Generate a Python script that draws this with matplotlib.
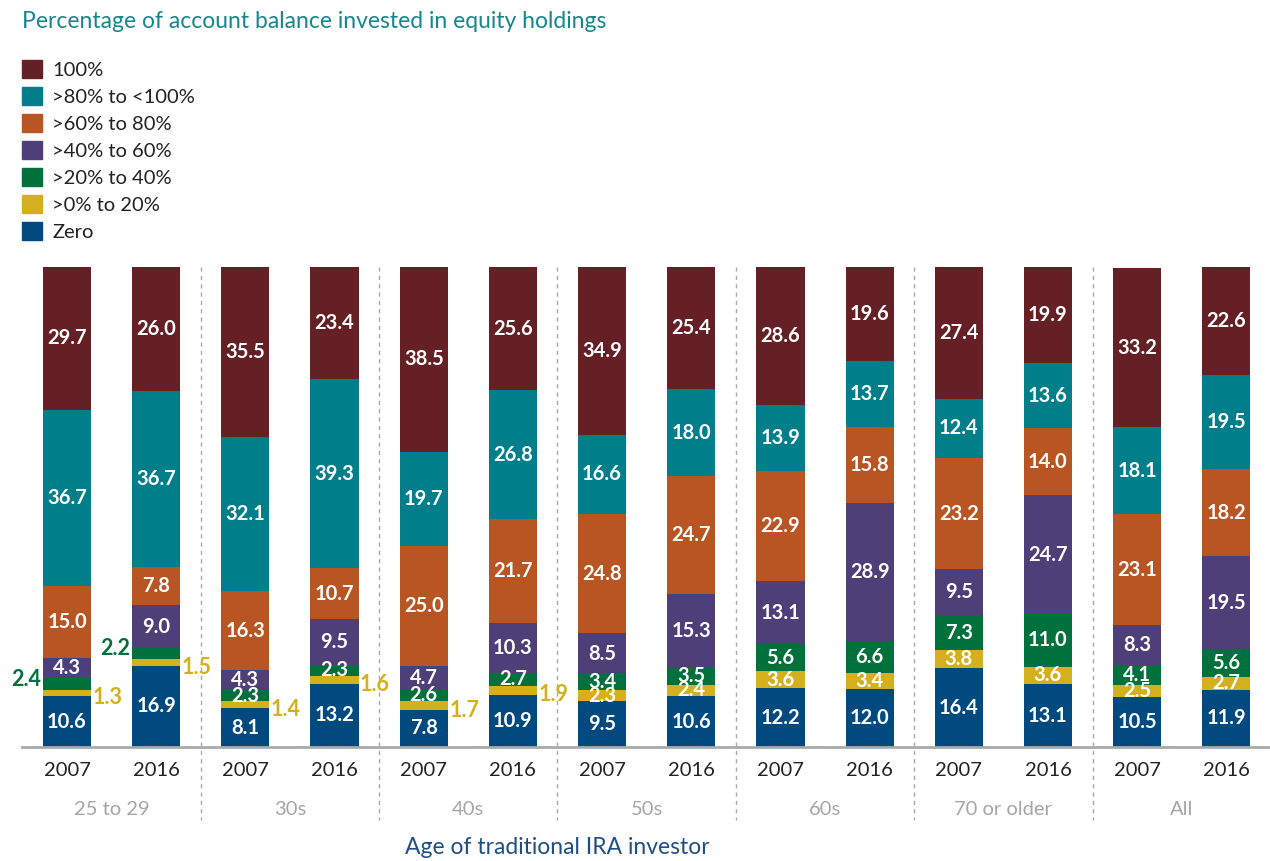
import numpy as np
import matplotlib.pyplot as plt
from matplotlib.patches import Patch
from matplotlib.transforms import blended_transform_factory

plt.rcParams["font.family"] = ["Lato", "DejaVu Sans"]

groups = ["25 to 29", "30s", "40s", "50s", "60s", "70 or older", "All"]
years = ["2007", "2016"]

# bottom to top of each stacked bar
categories = ["Zero", ">0% to 20%", ">20% to 40%", ">40% to 60%",
              ">60% to 80%", ">80% to <100%", "100%"]
colors = ["#004a80", "#d4b11c", "#00703c", "#4e3f78",
          "#b95423", "#007e8a", "#652025"]

# one value per bar: 25-29 '07, '16, 30s '07, '16, ... All '07, '16
zero =      [10.6, 16.9, 8.1, 13.2, 7.8, 10.9, 9.5, 10.6, 12.2, 12.0, 16.4, 13.1, 10.5, 11.9]
upto20 =    [1.3, 1.5, 1.4, 1.6, 1.7, 1.9, 2.3, 2.4, 3.6, 3.4, 3.8, 3.6, 2.5, 2.7]
upto40 =    [2.4, 2.2, 2.3, 2.3, 2.6, 2.7, 3.4, 3.5, 5.6, 6.6, 7.3, 11.0, 4.1, 5.6]
upto60 =    [4.3, 9.0, 4.3, 9.5, 4.7, 10.3, 8.5, 15.3, 13.1, 28.9, 9.5, 24.7, 8.3, 19.5]
upto80 =    [15.0, 7.8, 16.3, 10.7, 25.0, 21.7, 24.8, 24.7, 22.9, 15.8, 23.2, 14.0, 23.1, 18.2]
below100 =  [36.7, 36.7, 32.1, 39.3, 19.7, 26.8, 16.6, 18.0, 13.9, 13.7, 12.4, 13.6, 18.1, 19.5]
full =      [29.7, 26.0, 35.5, 23.4, 38.5, 25.6, 34.9, 25.4, 28.6, 19.6, 27.4, 19.9, 33.2, 22.6]

series = [zero, upto20, upto40, upto60, upto80, below100, full]

# small segments labelled beside the bar: (series index, bar index)
left_labels = {(2, 0), (2, 1)}
right_labels = {(1, 0), (1, 1), (1, 2), (1, 3), (1, 4), (1, 5)}

fig = plt.figure(figsize=(12.7, 8.61), dpi=100)
ax = fig.add_axes([22 / 1270, 114 / 861, 1248 / 1270, 480 / 861])

x = np.arange(len(zero))
width = 0.54
bottom = np.zeros(len(x))
for k, (vals, col) in enumerate(zip(series, colors)):
    vals = np.array(vals)
    ax.bar(x, vals, width, bottom=bottom, color=col, linewidth=0)
    for i, v in enumerate(vals):
        yc = bottom[i] + v / 2
        if (k, i) in left_labels:
            ax.annotate(f"{v:.1f}", (x[i] - width / 2, yc + 1.0), xytext=(-1.5, 0),
                        textcoords="offset points", ha="right", va="center",
                        color=col, fontsize=15.5, fontweight="bold")
        elif (k, i) in right_labels:
            ax.annotate(f"{v:.1f}", (x[i] + width / 2, yc - 1.0), xytext=(1, 0),
                        textcoords="offset points", ha="left", va="center",
                        color=col, fontsize=15.5, fontweight="bold")
        else:
            ax.text(x[i], yc, f"{v:.1f}", ha="center", va="center",
                    color="white", fontsize=14.5, fontweight="bold")
    bottom += vals

ax.set_xlim(-0.505, 13.49)
ax.set_ylim(0, 100)
for s in ax.spines.values():
    s.set_visible(False)
ax.set_yticks([])
ax.set_xticks(x)
ax.set_xticklabels(years * len(groups), fontsize=14.5, color="#222222")
ax.tick_params(axis="x", length=0, pad=11)
ax.axhline(0, color="#aaaaaa", lw=2, clip_on=False)

trans = blended_transform_factory(ax.transData, ax.transAxes)
for d in np.arange(1.5, 12, 2):
    ax.plot([d, d], [1.0, -0.152], transform=trans, color="#aaaaaa", lw=1,
            ls=(0, (3, 3)), clip_on=False)
for g, name in enumerate(groups):
    ax.text(2 * g + 0.5, -0.131, name, transform=trans, ha="center", va="center",
            fontsize=14.5, color="#a6a6a6")

fig.text(557 / 1270, 1 - 848 / 861, "Age of traditional IRA investor", ha="center",
         va="center", fontsize=16.5, color="#1f4f82")
fig.text(22 / 1270, 1 - 21 / 861, "Percentage of account balance invested in equity holdings",
         ha="left", va="center", fontsize=16.5, color="#16868f")

handles = [Patch(color=c, label=l) for c, l in zip(colors[::-1], categories[::-1])]
fig.legend(handles=handles, loc="upper left", bbox_to_anchor=(14 / 1270, 1 - 52 / 861),
           frameon=False, fontsize=14.5, handlelength=1.0, handleheight=1.0,
           handletextpad=0.5, labelspacing=0.4, borderaxespad=0, labelcolor="#222222")

fig.savefig("out.png", dpi=100)
